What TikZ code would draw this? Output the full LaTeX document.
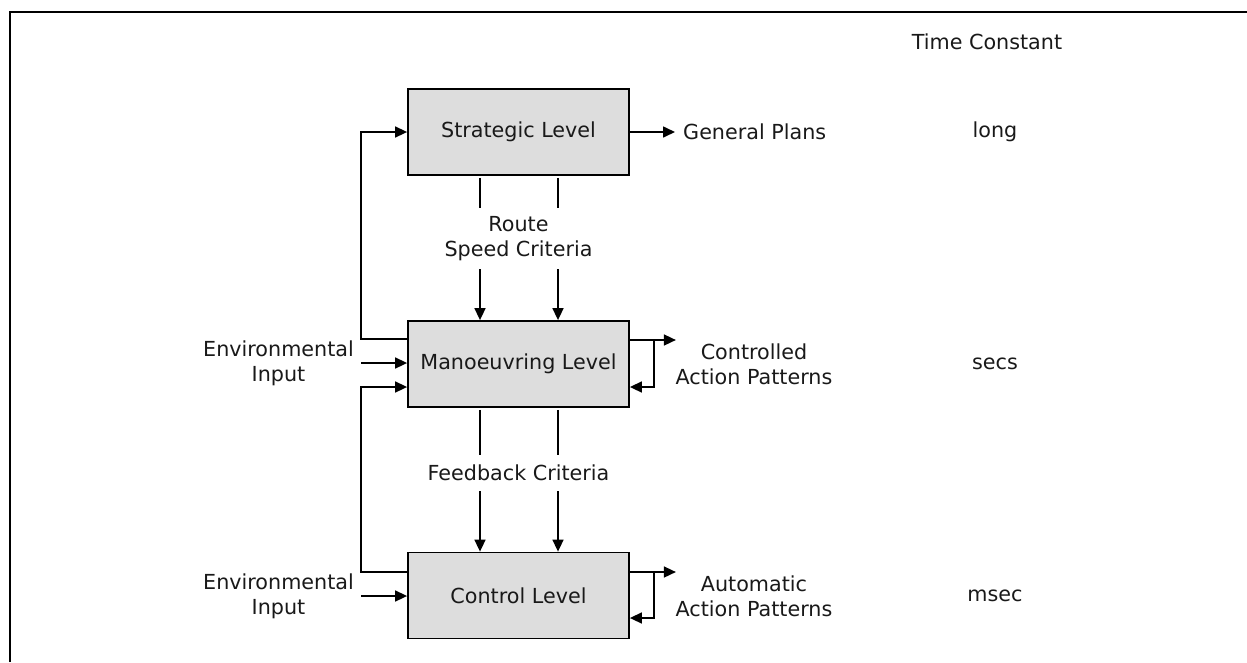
\documentclass[tikz,border=0pt]{standalone}
\usepackage{fontspec}
\setmainfont{DejaVu Sans}
\usetikzlibrary{arrows.meta}
\definecolor{boxgray}{HTML}{DDDDDD}
\begin{document}
\begin{tikzpicture}[x=1pt,y=-1pt,
  every node/.style={font=\fontsize{20.7}{25}\selectfont, text=black!90},
  levelbox/.style={draw, line width=1.8pt, fill=boxgray, minimum width=221pt, minimum height=86pt, inner sep=0pt},
  conn/.style={line width=1.6pt},
  arr/.style={conn, -{Triangle[length=12pt,width=11pt]}},
  lbl/.style={align=center, inner sep=0pt}]
\useasboundingbox (0,0) rectangle (1247,662);
\draw[line width=2pt] (10,662) -- (10,12) -- (1247,12);

% level boxes
\node[levelbox] (s) at (518.5,132) {Strategic Level};
\node[levelbox] (m) at (518.5,364) {Manoeuvring Level};
\node[levelbox] (c) at (518.5,595.5) {Control Level};

% middle labels
\node[lbl, minimum height=61pt] (rsc) at (518.5,238.5) {Route\\Speed Criteria};
\node[lbl, minimum height=36pt] (fbc) at (518.5,473) {Feedback Criteria};

% left labels
\node[lbl, anchor=east] (env1) at (354,363) {Environmental\\Input};
\node[lbl, anchor=east] (env2) at (354,596) {Environmental\\Input};

% right labels
\node[lbl, anchor=west, inner xsep=8pt] (gp) at (675,132) {General Plans};
\node[lbl] (cap) at (754,364) {Controlled\\Action Patterns};
\node[lbl] (aap) at (754,596) {Automatic\\Action Patterns};

% time constants
\node[lbl] (tc) at (987,42) {Time Constant};
\node[lbl] (tlong) at (995,132) {long};
\node[lbl] (tsecs) at (995,364) {secs};
\node[lbl] (tmsec) at (995,596) {msec};

% level-to-level connectors
\foreach \dx in {-38.5,39.5}{
  \draw[conn] ([xshift=\dx pt,yshift=-2pt]s.south) -- ([xshift=\dx pt]rsc.north);
  \draw[arr] ([xshift=\dx pt]rsc.south) -- ([xshift=\dx pt]m.north);
  \draw[conn] ([xshift=\dx pt,yshift=-2pt]m.south) -- ([xshift=\dx pt]fbc.north);
  \draw[arr] ([xshift=\dx pt]fbc.south) -- ([xshift=\dx pt]c.north);
}

% feedback loops on the left
\draw[arr] ([yshift=25pt]m.west) -- ++(-46,0) |- (s.west);
\draw[arr] ([yshift=23.5pt]c.west) -- ++(-46,0) |- ([yshift=-23pt]m.west);

% environmental inputs
\draw[arr] ([xshift=7pt]env1.east) -- (env1.east -| m.west);
\draw[arr] ([xshift=7pt]env2.east) -- (env2.east -| c.west);

% outputs
\draw[arr] (s.east) -- (gp.west);
\draw[arr] ([yshift=24pt]m.east) -- ++(46,0);
\draw[arr] ([yshift=24pt,xshift=24pt]m.east) |- ([yshift=-23pt]m.east);
\draw[arr] ([yshift=23.5pt]c.east) -- ++(46,0);
\draw[arr] ([yshift=23.5pt,xshift=24pt]c.east) |- ([yshift=-22.5pt]c.east);
\end{tikzpicture}
\end{document}
